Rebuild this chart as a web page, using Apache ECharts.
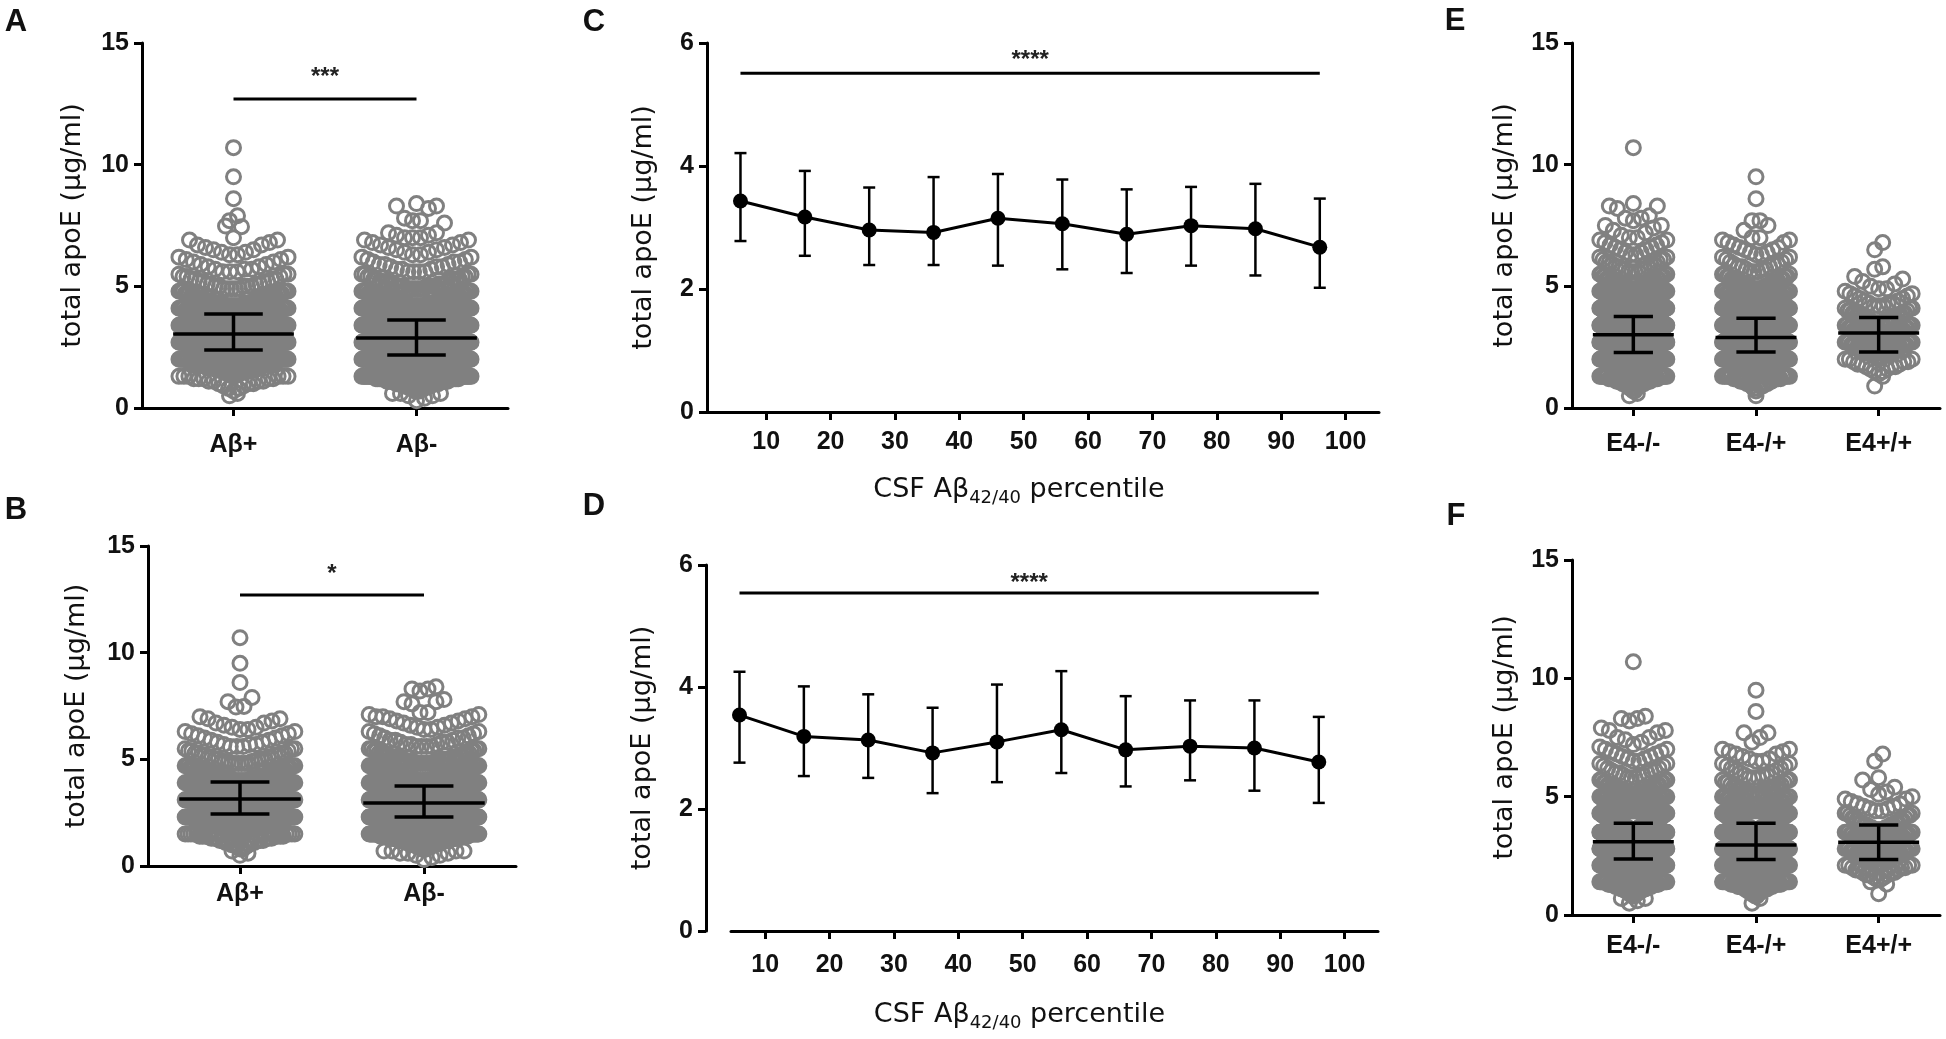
<!DOCTYPE html>
<html>
<head>
<meta charset="utf-8">
<title>total apoE by amyloid status, CSF Aβ42/40 percentile and APOE ε4</title>
<script src="https://cdn.jsdelivr.net/npm/echarts@6.0.0/dist/echarts.min.js"></script>
<style>
  html, body { margin: 0; padding: 0; background: #fff; }
  #chart { width: 1946px; height: 1039px; }
</style>
</head>
<body>
<div id="chart"></div>
<script>
// ---- data ----
// apoE levels (µg/ml) used for the dense part of every swarm, and how many dots sit at each level
const levels = [0.3, 0.4, 0.5, 0.6, 0.7, 0.8, 0.9, 1.0, 1.1, 1.2, 1.3, 1.4, 1.5, 1.6, 1.7, 1.8, 1.9,
  2.0, 2.1, 2.2, 2.3, 2.4, 2.5, 2.6, 2.7, 2.8, 2.9, 3.0, 3.1, 3.2, 3.3, 3.4, 3.5, 3.6, 3.7, 3.8, 3.9,
  4.0, 4.1, 4.2, 4.3, 4.4, 4.5, 4.6, 4.7, 4.8, 4.9, 5.0, 5.1, 5.2, 5.3, 5.4, 5.5, 5.6, 5.7, 5.8, 5.9,
  6.0, 6.1, 6.2, 6.3, 6.4, 6.5, 6.6, 6.7, 6.8, 6.9, 7.0]

// Aβ+ / Aβ- (panels A and B)
const abPosCounts = [0, 0, 1, 1, 1, 2, 2, 3, 4, 5, 6, 8, 9, 11, 12, 14, 15, 17, 18, 19, 20, 21, 22, 22, 22, 22, 22,
  21, 21, 20, 19, 18, 17, 16, 15, 14, 13, 12, 11, 10, 9, 8, 8, 7, 6, 6, 5, 5, 4, 4, 4, 3, 3, 3, 3, 2, 2, 2, 2, 2, 2,
  2, 2, 1, 2, 1, 2, 1]
const abPosHigh = [7.45, 7.48, 7.7, 7.9, 8.6, 9.5, 10.7]
const abNegCounts = [1, 1, 2, 3, 4, 6, 8, 10, 12, 14, 17, 19, 22, 24, 26, 28, 30, 32, 33, 34, 35, 36, 36, 36, 36,
  35, 34, 33, 32, 30, 29, 27, 25, 24, 22, 20, 19, 17, 16, 14, 13, 12, 11, 10, 9, 8, 7, 7, 6, 5, 5, 4, 4, 4, 3, 3, 3,
  3, 2, 2, 2, 2, 2, 2, 2, 2, 2, 3]
const abNegHigh = [7.1, 7.1, 7.2, 7.2, 7.6, 7.7, 7.7, 7.8, 8.2, 8.3, 8.3, 8.4]

// APOE ε4 carriers (panels E and F)
const e4NoneCounts = [0, 0, 1, 1, 2, 3, 4, 6, 8, 10, 12, 14, 16, 18, 20, 22, 24, 26, 28, 30, 31, 32, 33, 34, 34,
  34, 34, 33, 32, 31, 30, 28, 27, 25, 24, 22, 20, 19, 17, 16, 14, 13, 12, 11, 10, 9, 8, 7, 7, 6, 5, 5, 4, 4, 4, 3,
  3, 3, 3, 2, 2, 2, 2, 2, 2, 2, 2, 2]
const e4NoneHigh = [7.1, 7.2, 7.3, 7.4, 7.5, 7.5, 7.7, 7.8, 7.8, 7.9, 8.2, 8.3, 8.3, 8.4, 10.7]
const e4OneCounts = [0, 0, 1, 0, 1, 2, 3, 4, 5, 7, 9, 10, 12, 13, 15, 16, 18, 19, 20, 21, 22, 23, 23, 24, 24, 24,
  23, 23, 22, 21, 20, 19, 18, 17, 16, 15, 14, 13, 12, 11, 10, 9, 8, 8, 7, 6, 6, 5, 5, 4, 4, 4, 3, 3, 3, 3, 3, 2, 2,
  2, 2, 2, 2, 2, 1, 2, 2, 2]
const e4OneHigh = [7.3, 7.5, 7.7, 7.7, 8.6, 9.5]
const e4TwoCounts = [0, 0, 0, 0, 0, 0, 1, 0, 0, 0, 1, 1, 2, 2, 3, 3, 3, 3, 4, 4, 5, 5, 5, 6, 6, 6, 6, 6, 6, 6, 5,
  5, 5, 5, 4, 4, 4, 3, 3, 3, 3, 2, 2, 2, 2, 1, 2, 1, 1, 1, 1, 1, 0, 0, 1, 1, 0, 0, 0, 0, 0, 0, 1, 0, 0, 1, 0, 0]
const e4TwoHigh = []

const abCats = ['Aβ+', 'Aβ-']
const e4Cats = ['E4-/-', 'E4-/+', 'E4+/+']

// summary lines (centre, lower, upper)
const meanA = [3.04, 2.88], lowA = [2.38, 2.18], highA = [3.86, 3.62]
const meanB = [3.14, 2.95], lowB = [2.44, 2.30], highB = [3.94, 3.75]
const meanE = [3.01, 2.90, 3.08], lowE = [2.28, 2.30, 2.30], highE = [3.76, 3.69, 3.72]
const meanF = [3.10, 2.96, 3.07], lowF = [2.37, 2.35, 2.35], highF = [3.88, 3.88, 3.80]

// CSF Aβ42/40 percentile bins (panels C and D)
const pctX = [6, 16, 26, 36, 46, 56, 66, 76, 86, 96]
const pctTicks = [10, 20, 30, 40, 50, 60, 70, 80, 90, 100]
const meanC = [3.43, 3.17, 2.96, 2.92, 3.15, 3.06, 2.89, 3.03, 2.98, 2.68]
const lowC = [2.78, 2.54, 2.39, 2.39, 2.38, 2.32, 2.26, 2.38, 2.22, 2.02]
const highC = [4.21, 3.92, 3.65, 3.82, 3.87, 3.78, 3.62, 3.66, 3.71, 3.47]
const meanD = [3.54, 3.19, 3.13, 2.92, 3.10, 3.30, 2.97, 3.03, 3.00, 2.77]
const lowD = [2.76, 2.54, 2.51, 2.26, 2.44, 2.59, 2.37, 2.47, 2.30, 2.10]
const highD = [4.25, 4.01, 3.88, 3.66, 4.04, 4.26, 3.85, 3.78, 3.78, 3.51]

// significance bars: [from, to, bar y, star y]
const sigA = [0, 1, 12.7, 13.6], starsA = '***'
const sigB = [0, 1, 12.7, 13.65], starsB = '*'
const sigC = [6, 96, 5.51, 5.71], starsC = '****'
const sigD = [6, 96, 5.54, 5.70], starsD = '****'

// ---- drawing ----
const FONT = "'Liberation Sans', Arial, Helvetica, sans-serif"
const TITLE_FONT = "'DejaVu Sans', Verdana, sans-serif"
const INK = '#111'
const GREY = '#808080'
const DOT_R = 7
const DOT_STEP = 8
const BIN_PX = 17

const grids = [
  { left: 142, top: 43, width: 366, height: 365 },   // A
  { left: 148, top: 546, width: 368, height: 320 },  // B
  { left: 707, top: 43, width: 672, height: 369 },   // C
  { left: 731, top: 565, width: 647, height: 366 },  // D (y axis pulled 25px to the left)
  { left: 1572, top: 43, width: 368, height: 365 },  // E
  { left: 1572, top: 560, width: 368, height: 355 }  // F
]

const axisLine = { show: true, lineStyle: { color: '#000', width: 3 } }
const axisTick = { show: true, length: 8, lineStyle: { color: '#000', width: 3 } }
const tickFont = { fontSize: 25, fontWeight: 'bold', fontFamily: FONT, color: INK }

function yAxisFor (i, max, interval, gap, offset) {
  return {
    type: 'value', gridIndex: i, min: 0, max: max, interval: interval, offset: offset || 0,
    name: 'total apoE (μg/ml)', nameLocation: 'middle', nameGap: gap,
    nameTextStyle: { fontSize: 27, fontFamily: TITLE_FONT, color: INK },
    axisLine: axisLine, axisTick: axisTick,
    axisLabel: Object.assign({ margin: 13 }, tickFont),
    splitLine: { show: false }
  }
}

function catAxis (i, cats, margin) {
  return {
    type: 'category', gridIndex: i, data: cats,
    axisLine: axisLine,
    axisTick: Object.assign({ alignWithLabel: true }, axisTick),
    axisLabel: Object.assign({ margin: margin }, tickFont),
    splitLine: { show: false }
  }
}

// shift = how far the centred name sits left of the grid centre
function pctAxis (i, min, margin, gap, shift) {
  return {
    type: 'value', gridIndex: i, min: min, max: 105.2,
    name: '{n|CSF Aβ}{s|42/40}{e| percentile}', nameLocation: 'middle', nameGap: gap,
    nameTextStyle: {
      rich: {
        n: { fontSize: 27, fontFamily: TITLE_FONT, color: INK, lineHeight: 34 },
        s: { fontSize: 18, fontFamily: TITLE_FONT, color: INK, lineHeight: 18, verticalAlign: 'bottom' },
        e: { fontSize: 27, fontFamily: TITLE_FONT, color: INK, lineHeight: 34, padding: [0, shift * 2, 0, 0] }
      }
    },
    axisLine: axisLine,
    axisTick: Object.assign({ customValues: pctTicks }, axisTick),
    axisLabel: Object.assign({ margin: margin, customValues: pctTicks }, tickFont),
    splitLine: { show: false }
  }
}

// prism-like swarm: values grouped in bins one dot high, low values in the middle, high ones outside
function swarmData (groups, binH) {
  const out = []
  groups.forEach((g, cat) => {
    const vals = []
    levels.forEach((v, i) => { for (let k = 0; k < g.counts[i]; k++) vals.push(v) })
    g.high.forEach(v => vals.push(v))
    vals.sort((a, b) => a - b)
    const bins = {}
    vals.forEach(v => {
      const b = Math.floor(v / binH + 1e-6)
      ;(bins[b] = bins[b] || []).push(v)
    })
    Object.keys(bins).forEach(b => {
      const list = bins[b]
      const n = list.length
      list.forEach((v, i) => {
        const side = i % 2 ? 1 : -1
        const slot = n % 2 ? side * Math.ceil(i / 2) : side * (Math.floor(i / 2) + 0.5)
        out.push([cat, v, slot, n])
      })
    })
  })
  return out
}

function swarmRender (frac) {
  return function (params, api) {
    const c = api.coord([api.value(0), api.value(1)])
    const band = api.size([1, 0])[0]
    const n = api.value(3)
    const maxOff = band * frac
    const step = n > 1 ? Math.min(DOT_STEP, 2 * maxOff / (n - 1)) : 0
    return {
      type: 'circle',
      shape: { cx: c[0] + api.value(2) * step, cy: c[1], r: DOT_R },
      style: { fill: 'none', stroke: GREY, lineWidth: 3 }
    }
  }
}

function summaryRender (params, api) {
  const m = api.coord([api.value(0), api.value(1)])
  const lo = api.coord([api.value(0), api.value(2)])
  const hi = api.coord([api.value(0), api.value(3)])
  const band = api.size([1, 0])[0]
  const w = band * 0.33
  const cw = band * 0.16
  const st = { stroke: '#000', lineWidth: 3.5 }
  return {
    type: 'group',
    children: [
      { type: 'line', shape: { x1: m[0] - w, y1: m[1], x2: m[0] + w, y2: m[1] }, style: st },
      { type: 'line', shape: { x1: m[0], y1: lo[1], x2: m[0], y2: hi[1] }, style: st },
      { type: 'line', shape: { x1: m[0] - cw, y1: lo[1], x2: m[0] + cw, y2: lo[1] }, style: st },
      { type: 'line', shape: { x1: m[0] - cw, y1: hi[1], x2: m[0] + cw, y2: hi[1] }, style: st }
    ]
  }
}

function errRender (params, api) {
  const lo = api.coord([api.value(0), api.value(1)])
  const hi = api.coord([api.value(0), api.value(2)])
  const st = { stroke: '#000', lineWidth: 2.5 }
  return {
    type: 'group',
    children: [
      { type: 'line', shape: { x1: lo[0], y1: lo[1], x2: hi[0], y2: hi[1] }, style: st },
      { type: 'line', shape: { x1: lo[0] - 6, y1: lo[1], x2: lo[0] + 6, y2: lo[1] }, style: st },
      { type: 'line', shape: { x1: hi[0] - 6, y1: hi[1], x2: hi[0] + 6, y2: hi[1] }, style: st }
    ]
  }
}

function sigSeries (i, sig, stars) {
  return {
    type: 'custom', coordinateSystem: 'cartesian2d', xAxisIndex: i, yAxisIndex: i, z: 4,
    data: [sig], silent: true,
    renderItem: function (params, api) {
      const a = api.coord([api.value(0), api.value(2)])
      const b = api.coord([api.value(1), api.value(2)])
      const t = api.coord([api.value(0), api.value(3)])
      return {
        type: 'group',
        children: [
          { type: 'line', shape: { x1: a[0], y1: a[1], x2: b[0], y2: b[1] }, style: { stroke: '#000', lineWidth: 3 } },
          {
            type: 'text',
            style: { text: stars, x: (a[0] + b[0]) / 2, y: t[1], align: 'center', verticalAlign: 'middle',
              fontSize: 24, fontWeight: 'bold', fontFamily: FONT, fill: '#222' }
          }
        ]
      }
    }
  }
}

function swarmPanel (i, groups, means, lows, highs, frac) {
  const binH = BIN_PX / (grids[i].height / 15)
  return [
    {
      type: 'custom', coordinateSystem: 'cartesian2d', xAxisIndex: i, yAxisIndex: i, z: 2,
      silent: true, clip: false,
      renderItem: swarmRender(frac),
      data: swarmData(groups, binH)
    },
    {
      type: 'custom', coordinateSystem: 'cartesian2d', xAxisIndex: i, yAxisIndex: i, z: 3,
      silent: true, renderItem: summaryRender,
      data: means.map((m, k) => [k, m, lows[k], highs[k]])
    }
  ]
}

function linePanel (i, means, lows, highs) {
  return [
    {
      type: 'custom', coordinateSystem: 'cartesian2d', xAxisIndex: i, yAxisIndex: i, z: 2,
      silent: true, renderItem: errRender,
      data: pctX.map((x, k) => [x, lows[k], highs[k]])
    },
    {
      type: 'line', xAxisIndex: i, yAxisIndex: i, z: 3,
      data: pctX.map((x, k) => [x, means[k]]),
      symbol: 'circle', symbolSize: 15,
      itemStyle: { color: '#000' },
      lineStyle: { color: '#000', width: 3 }
    }
  ]
}

const abGroups = [
  { counts: abPosCounts, high: abPosHigh },
  { counts: abNegCounts, high: abNegHigh }
]
const e4Groups = [
  { counts: e4NoneCounts, high: e4NoneHigh },
  { counts: e4OneCounts, high: e4OneHigh },
  { counts: e4TwoCounts, high: e4TwoHigh }
]

function letter (txt, x, y) {
  return {
    type: 'text', x: x, y: y,
    style: { text: txt, fontSize: 31, fontWeight: 'bold', fontFamily: FONT, fill: INK, align: 'center', verticalAlign: 'middle' }
  }
}

const chart = echarts.init(document.getElementById('chart'), null, { renderer: 'canvas' })

chart.setOption({
  animation: false,
  backgroundColor: '#fff',
  grid: grids.map(g => Object.assign({ outerBoundsMode: 'none', containLabel: false }, g)),
  xAxis: [
    catAxis(0, abCats, 25),
    catAxis(1, abCats, 16),
    pctAxis(2, 0.8, 18, 61, 24),
    pctAxis(3, 4.68, 22, 67, 35),
    catAxis(4, e4Cats, 24),
    catAxis(5, e4Cats, 19)
  ],
  yAxis: [
    yAxisFor(0, 15, 5, 56),
    yAxisFor(1, 15, 5, 58),
    yAxisFor(2, 6, 2, 50),
    yAxisFor(3, 6, 2, 50, 25),
    yAxisFor(4, 15, 5, 54),
    yAxisFor(5, 15, 5, 54)
  ],
  graphic: [
    letter('A', 16, 22),
    letter('B', 16, 510),
    letter('C', 594, 22),
    letter('D', 594, 506),
    letter('E', 1455, 21),
    letter('F', 1456, 516)
  ],
  series: [].concat(
    swarmPanel(0, abGroups, meanA, lowA, highA, 0.298),
    swarmPanel(1, abGroups, meanB, lowB, highB, 0.298),
    linePanel(2, meanC, lowC, highC),
    linePanel(3, meanD, lowD, highD),
    swarmPanel(4, e4Groups, meanE, lowE, highE, 0.273),
    swarmPanel(5, e4Groups, meanF, lowF, highF, 0.273),
    [sigSeries(0, sigA, starsA), sigSeries(1, sigB, starsB), sigSeries(2, sigC, starsC), sigSeries(3, sigD, starsD)]
  )
})
</script>
</body>
</html>
